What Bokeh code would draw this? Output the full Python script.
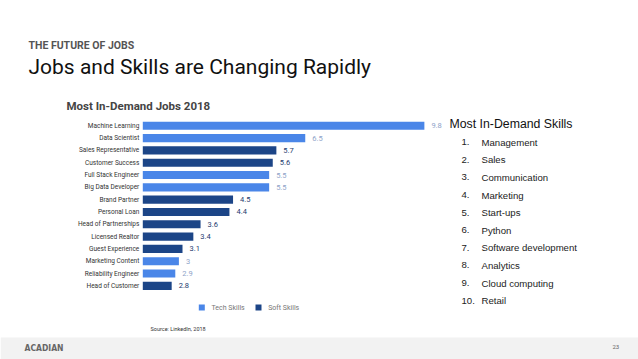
from bokeh.plotting import figure
from bokeh.models import Range1d, ColumnDataSource
from bokeh.core.properties import value
from bokeh.embed import file_html
from bokeh.resources import INLINE

# ---------------- data ----------------
JOBS = ["Machine Learning", "Data Scientist", "Sales Representative", "Customer Success",
        "Full Stack Engineer", "Big Data Developer", "Brand Partner", "Personal Loan",
        "Head of Partnerships", "Licensed Realtor", "Guest Experience", "Marketing Content",
        "Reliability Engineer", "Head of Customer"]
DEMAND = [9.8, 6.5, 5.7, 5.6, 5.5, 5.5, 4.5, 4.4, 3.6, 3.4, 3.1, 3.0, 2.9, 2.8]
SKILL_TYPE = ["Tech", "Tech", "Soft", "Soft", "Tech", "Tech", "Soft", "Soft",
              "Soft", "Soft", "Soft", "Tech", "Tech", "Soft"]
LEGEND = ["Tech Skills", "Soft Skills"]
SKILLS = ["Management", "Sales", "Communication", "Marketing", "Start-ups", "Python",
          "Software development", "Analytics", "Cloud computing", "Retail"]
AXIS_START = 2.0

# ---------------- styles ----------------
W, H = 638, 359
BAR_COLOR = {"Tech": "#4a86e8", "Soft": "#1c4587"}
LABEL_COLOR = {"Tech": "#8ea3c9", "Soft": "#1c3a6e"}

PX_PER_UNIT = 36.1
BASE_PX = 142.3
ROW_PX = 12.31
ROW0_PX = 125.3

x0 = AXIS_START - BASE_PX / PX_PER_UNIT
p = figure(width=W, height=H, output_backend="svg", toolbar_location=None,
           x_range=Range1d(x0, x0 + W / PX_PER_UNIT),
           y_range=Range1d((H - ROW0_PX) / ROW_PX, -ROW0_PX / ROW_PX),
           x_axis_location=None, y_axis_location=None, min_border=0)
p.grid.visible = False
p.outline_line_color = None
p.background_fill_color = "white"
p.border_fill_color = "white"
p.title.visible = False
p.extra_x_ranges = {"px": Range1d(0, W)}
p.extra_y_ranges = {"px": Range1d(H, 0)}

idx = list(range(len(JOBS)))
src = ColumnDataSource(dict(
    y=idx, job=JOBS, v=DEMAND,
    color=[BAR_COLOR[t] for t in SKILL_TYPE],
    lcolor=[LABEL_COLOR[t] for t in SKILL_TYPE],
    vtext=[f"{v:g}" for v in DEMAND],
    base=[AXIS_START] * len(JOBS),
))

p.hbar(y="y", left="base", right="v", height=0.66, fill_color="color",
       line_color=None, source=src)
p.text(x="v", y="y", text="vtext", x_offset=7, text_color="lcolor",
       text_font=value("Roboto"), text_font_size="7.5px",
       text_baseline="middle", text_align="left", source=src)
p.text(x="base", y="y", text="job", x_offset=-3.5, text_color="#333333",
       text_font=value("Roboto"), text_font_size="6.5px",
       text_baseline="middle", text_align="right", source=src)

PX = dict(x_range_name="px", y_range_name="px")

# headers
p.text(x=[28], y=[45], text=["THE FUTURE OF JOBS"], text_font=value("Roboto"),
       text_font_style="bold", text_font_size="10.5px", text_color="#555555",
       text_baseline="alphabetic", **PX)
p.text(x=[28], y=[66.7], text=["Jobs and Skills are Changing Rapidly"],
       text_font=value("Roboto"), text_font_size="21px", text_color="#111111",
       text_baseline="alphabetic", **PX)
p.text(x=[66], y=[105], text=["Most In-Demand Jobs 2018"], text_font=value("Roboto"),
       text_font_style="bold", text_font_size="11.5px", text_color="#444444",
       text_baseline="alphabetic", **PX)

# legend
p.rect(x=[201.3, 258], y=[307, 307], width=6, height=6,
       fill_color=[BAR_COLOR["Tech"], BAR_COLOR["Soft"]], line_color=None, **PX)
p.text(x=[211, 267.7], y=[307, 307], text=LEGEND, text_font=value("Roboto"),
       text_font_size="7px", text_color="#777777", text_baseline="middle", **PX)
p.text(x=[150], y=[328], text=["Source: LinkedIn, 2018"], text_font=value("Roboto"),
       text_font_size="5.5px", text_color="#333333", text_baseline="middle", **PX)

# skills list
p.text(x=[449], y=[123.3], text=["Most In-Demand Skills"],
       text_font=value("Liberation Sans"), text_font_size="12.3px", text_color="#111111",
       text_baseline="alphabetic", **PX)
sk_y = [141.7 + 17.6 * i for i in range(len(SKILLS))]
p.text(x=[461] * len(SKILLS), y=sk_y, text=[f"{i + 1}." for i in range(len(SKILLS))],
       text_font=value("Liberation Sans"), text_font_size="9.6px", text_color="#222222",
       text_baseline="alphabetic", **PX)
p.text(x=[481] * len(SKILLS), y=sk_y, text=SKILLS,
       text_font=value("Liberation Sans"), text_font_size="9.6px", text_color="#222222",
       text_baseline="alphabetic", **PX)

# footer
p.quad(left=[0], right=[W], top=[337], bottom=[H], fill_color="#f2f2f2",
       line_color=None, **PX)
p.text(x=[24], y=[347.5], text=["ACADIAN"], text_font=value("DejaVu Sans Condensed"),
       text_font_style="bold", text_font_size="8.5px", text_color="#666666",
       text_baseline="middle", **PX)
p.text(x=[612], y=[346], text=["23"], text_font=value("Roboto"),
       text_font_size="6px", text_color="#666666", text_baseline="middle", **PX)

open("out.html", "w").write(file_html(p, INLINE))
